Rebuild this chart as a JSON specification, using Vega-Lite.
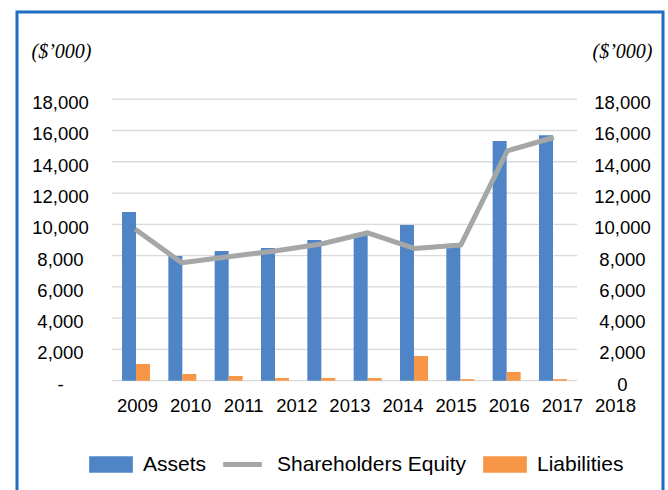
{
  "$schema": "https://vega.github.io/schema/vega-lite/v6.json",
  "width": 646,
  "height": 488,
  "autosize": {"type": "none"},
  "padding": {"left": 17, "top": 12, "right": 5, "bottom": -10},
  "background": "white",
  "view": {"stroke": "#1e6fc3", "strokeWidth": 3},
  "config": {"font": "Liberation Sans"},
  "data": {
    "values": [
      {"year": "2009", "Assets": 10780, "Liabilities": 1070, "Equity": 9680},
      {"year": "2010", "Assets": 7970, "Liabilities": 430, "Equity": 7540},
      {"year": "2011", "Assets": 8290, "Liabilities": 300, "Equity": 7920},
      {"year": "2012", "Assets": 8480, "Liabilities": 170, "Equity": 8300},
      {"year": "2013", "Assets": 8990, "Liabilities": 170, "Equity": 8740},
      {"year": "2014", "Assets": 9310, "Liabilities": 170, "Equity": 9460},
      {"year": "2015", "Assets": 9950, "Liabilities": 1580, "Equity": 8460},
      {"year": "2016", "Assets": 8650, "Liabilities": 100, "Equity": 8670},
      {"year": "2017", "Assets": 15320, "Liabilities": 560, "Equity": 14700},
      {"year": "2018", "Assets": 15700, "Liabilities": 100, "Equity": 15550}
    ]
  },
  "layer": [
    {
      "data": {"values": [{"g": 0}, {"g": 2000}, {"g": 4000}, {"g": 6000}, {"g": 8000}, {"g": 10000}, {"g": 12000}, {"g": 14000}, {"g": 16000}, {"g": 18000}]},
      "mark": {"type": "rule", "color": "#d9d9d9", "strokeWidth": 1.3},
      "encoding": {
        "y": {"field": "g", "type": "quantitative", "scale": {"domain": [-7628.4, 23575.8], "nice": false, "zero": false}, "axis": null},
        "x": {"datum": 0, "type": "quantitative", "scale": {"domain": [-0.2043, 1.1849], "nice": false, "zero": false}, "axis": null},
        "x2": {"datum": 1}
      }
    },
    {
      "transform": [{"fold": ["Assets", "Liabilities"], "as": ["key", "value"]}],
      "mark": {"type": "bar"},
      "encoding": {
        "x": {
          "field": "year", "type": "ordinal",
          "scale": {"domain": ["2009","2010","2011","2012","2013","2014","2015","2016","2017","2018"], "range": [95, 560], "paddingInner": 0.3957, "paddingOuter": 0.2162, "align": 0.5},
          "axis": {
            "title": null, "orient": "bottom", "offset": -94.5, "domain": false, "ticks": false, "tickSize": 0, "grid": false,
            "labelAngle": 0, "labelPadding": 0, "labelBaseline": "middle", "labelAlign": "center",
            "labelFont": "Liberation Sans", "labelFontSize": 18.5, "labelColor": "#000000",
            "labelOffset": {"expr": "1.5 + datum.index * 61"}
          }
        },
        "xOffset": {"field": "key", "type": "nominal", "sort": ["Assets", "Liabilities"], "scale": {"paddingInner": 0, "paddingOuter": 0}},
        "y": {
          "field": "value", "type": "quantitative",
          "scale": {"domain": [-7628.4, 23575.8], "nice": false, "zero": false},
          "axis": {
            "orient": "left", "offset": -43, "values": [0,2000,4000,6000,8000,10000,12000,14000,16000,18000],
            "labelExpr": "datum.value === 0 ? '-' : format(datum.value, ',')",
            "domain": false, "ticks": false, "tickSize": 0, "grid": false,
            "labelPadding": 0, "labelAlign": "center", "labelBaseline": "middle", "labelOffset": 3.5,
            "labelFont": "Liberation Sans", "labelFontSize": 18.5, "labelColor": "#000000",
            "title": "($’000)", "titleAngle": 0, "titleX": 1, "titleY": 45, "titleAlign": "center", "titleBaseline": "alphabetic",
            "titleFont": "Liberation Serif", "titleFontStyle": "italic", "titleFontWeight": "normal", "titleFontSize": 20, "titleColor": "#000000"
          }
        },
        "color": {
          "field": "key", "type": "nominal",
          "scale": {"domain": ["Assets", "Shareholders Equity", "Liabilities"], "range": ["#4f85c6", "#a5a7a7", "#f79646"]},
          "legend": {
            "title": null, "orient": "none", "legendX": 72, "legendY": 430.5, "direction": "horizontal", "padding": 0,
            "symbolType": {"expr": "datum.value === 'Shareholders Equity' ? 'M-1,-0.114H0.77V0.114H-1Z' : 'M-1,-0.382H1V0.382H-1Z'"},
            "symbolSize": 1910, "symbolStrokeWidth": 0, "symbolOpacity": 1,
            "labelFont": "Liberation Sans", "labelFontSize": 21, "labelColor": "#000000", "labelOffset": 10, "labelLimit": 400, "columnPadding": 16
          }
        }
      }
    },
    {
      "mark": {"type": "line", "color": "#a5a7a7", "strokeWidth": 5, "strokeJoin": "round"},
      "encoding": {
        "x": {
          "field": "year", "type": "ordinal",
          "scale": {"domain": ["2009","2010","2011","2012","2013","2014","2015","2016","2017","2018"], "range": [95, 560], "paddingInner": 0.3957, "paddingOuter": 0.2162, "align": 0.5},
          "axis": null
        },
        "y": {
          "field": "Equity", "type": "quantitative",
          "scale": {"domain": [-7628.4, 23575.8], "nice": false, "zero": false},
          "axis": {
            "orient": "right", "offset": -41, "values": [0,2000,4000,6000,8000,10000,12000,14000,16000,18000],
            "labelExpr": "format(datum.value, ',')",
            "domain": false, "ticks": false, "tickSize": 0, "grid": false,
            "labelPadding": 0, "labelAlign": "center", "labelBaseline": "middle", "labelOffset": 3.5,
            "labelFont": "Liberation Sans", "labelFontSize": 18.5, "labelColor": "#000000",
            "title": "($’000)", "titleAngle": 0, "titleX": 0, "titleY": 45, "titleAlign": "center", "titleBaseline": "alphabetic",
            "titleFont": "Liberation Serif", "titleFontStyle": "italic", "titleFontWeight": "normal", "titleFontSize": 20, "titleColor": "#000000"
          }
        }
      }
    }
  ],
  "resolve": {"scale": {"x": "independent", "y": "independent"}}
}
